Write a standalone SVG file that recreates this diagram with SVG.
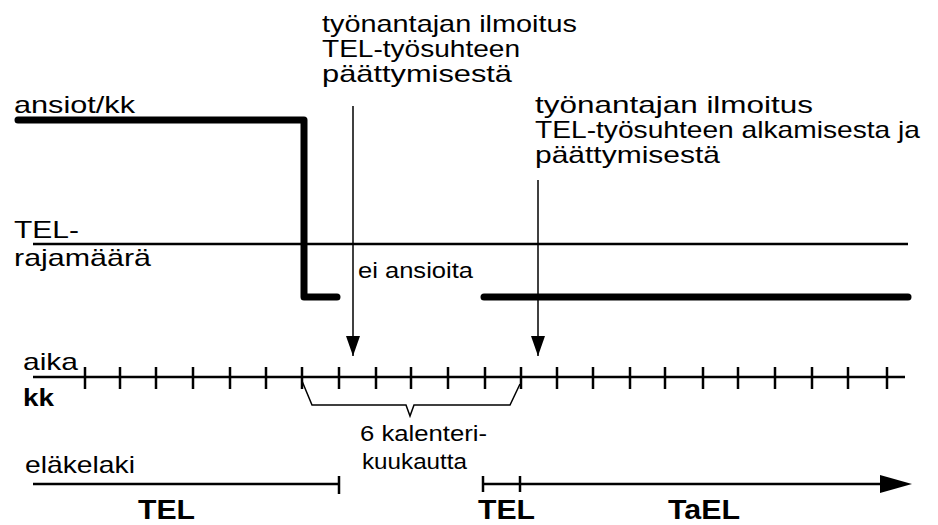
<svg xmlns="http://www.w3.org/2000/svg" width="938" height="525" viewBox="0 0 938 525">
<defs>
<style>
text{font-family:"Liberation Sans",Arial,sans-serif;fill:#000}
.t{font-size:24px}
.s{font-size:22px}
.b{font-size:28px;font-weight:bold}
.thick{stroke:#000;stroke-width:7;fill:none;stroke-linecap:round;stroke-linejoin:round}
.thin{stroke:#000;stroke-width:2.5;fill:none}
.arr{stroke:#000;stroke-width:1.5;fill:none}
.tick{stroke:#000;stroke-width:2.5}
</style>
<marker id="ah" viewBox="0 0 20 14" refX="20" refY="7" markerWidth="20" markerHeight="14" markerUnits="userSpaceOnUse" orient="auto">
<path d="M0,0 L20,7 L0,14 Z" fill="#000"/>
</marker>
</defs>
<rect width="938" height="525" fill="#fff"/>

<g id="labels">
<text class="t" x="14" y="113" textLength="121" lengthAdjust="spacingAndGlyphs">ansiot/kk</text>
<text class="t" x="14" y="238" textLength="65" lengthAdjust="spacingAndGlyphs">TEL-</text>
<text class="t" x="14" y="266" textLength="137" lengthAdjust="spacingAndGlyphs">rajamäärä</text>
<text class="t" x="23" y="370" textLength="55" lengthAdjust="spacingAndGlyphs">aika</text>
<text class="t" x="23" y="406" font-weight="bold" textLength="31" lengthAdjust="spacingAndGlyphs">kk</text>
<text class="t" x="25" y="473" textLength="110" lengthAdjust="spacingAndGlyphs">eläkelaki</text>
</g>

<g id="note-end">
<text class="t" x="322" y="32" textLength="255" lengthAdjust="spacingAndGlyphs">työnantajan ilmoitus</text>
<text class="t" x="322" y="57" textLength="198" lengthAdjust="spacingAndGlyphs">TEL-työsuhteen</text>
<text class="t" x="322" y="82" textLength="190" lengthAdjust="spacingAndGlyphs">päättymisestä</text>
</g>

<g id="note-startend">
<text class="t" x="535" y="113" textLength="278" lengthAdjust="spacingAndGlyphs">työnantajan ilmoitus</text>
<text class="t" x="535" y="138" textLength="385" lengthAdjust="spacingAndGlyphs">TEL-työsuhteen alkamisesta ja</text>
<text class="t" x="535" y="163" textLength="185" lengthAdjust="spacingAndGlyphs">päättymisestä</text>
</g>

<g id="no-earnings">
<text class="s" x="358" y="278" textLength="115" lengthAdjust="spacingAndGlyphs">ei ansioita</text>
</g>

<g id="months-label">
<text class="s" x="360" y="441" textLength="127" lengthAdjust="spacingAndGlyphs">6 kalenteri-</text>
<text class="s" x="362" y="469" textLength="105" lengthAdjust="spacingAndGlyphs">kuukautta</text>
</g>

<g id="law-labels">
<text class="b" x="138" y="519" textLength="57" lengthAdjust="spacingAndGlyphs">TEL</text>
<text class="b" x="478" y="519" textLength="57" lengthAdjust="spacingAndGlyphs">TEL</text>
<text class="b" x="668" y="519" textLength="72" lengthAdjust="spacingAndGlyphs">TaEL</text>
</g>

<g id="earnings">
<path class="thick" d="M18,120 H304 V297 H337"/>
<path class="thick" d="M484,297 H908"/>
</g>

<g id="threshold">
<line class="thin" x1="33" y1="244" x2="908" y2="244"/>
</g>

<g id="timeline">
<line class="thin" x1="33" y1="377" x2="905" y2="377"/>
<g class="tick">
<line x1="85" y1="367" x2="85" y2="389"/>
<line x1="120" y1="367" x2="120" y2="389"/>
<line x1="156" y1="367" x2="156" y2="389"/>
<line x1="193" y1="367" x2="193" y2="389"/>
<line x1="230" y1="367" x2="230" y2="389"/>
<line x1="266" y1="367" x2="266" y2="389"/>
<line x1="302" y1="367" x2="302" y2="389"/>
<line x1="339" y1="367" x2="339" y2="389"/>
<line x1="376" y1="367" x2="376" y2="389"/>
<line x1="411" y1="367" x2="411" y2="389"/>
<line x1="448" y1="367" x2="448" y2="389"/>
<line x1="485" y1="367" x2="485" y2="389"/>
<line x1="521" y1="367" x2="521" y2="389"/>
<line x1="557" y1="367" x2="557" y2="389"/>
<line x1="593" y1="367" x2="593" y2="389"/>
<line x1="630" y1="367" x2="630" y2="389"/>
<line x1="665" y1="367" x2="665" y2="389"/>
<line x1="703" y1="367" x2="703" y2="389"/>
<line x1="738" y1="367" x2="738" y2="389"/>
<line x1="775" y1="367" x2="775" y2="389"/>
<line x1="812" y1="367" x2="812" y2="389"/>
<line x1="848" y1="367" x2="848" y2="389"/>
<line x1="887" y1="367" x2="887" y2="389"/>
</g>
</g>

<g id="brace">
<path d="M302,381 L312,405 H406 L410,416 L414,405 H510 L520,384" fill="none" stroke="#000" stroke-width="1.5"/>
</g>

<g id="pension-law">
<line class="thin" x1="33" y1="484" x2="339" y2="484"/>
<line class="thin" x1="339" y1="476" x2="339" y2="494"/>
<line class="thin" x1="483" y1="484" x2="882" y2="484"/>
<line class="thin" x1="483" y1="476" x2="483" y2="492"/>
<line class="thin" x1="520" y1="476" x2="520" y2="492"/>
<path d="M880,475 L912,484 L880,493 Z" fill="#000"/>
</g>

<g id="connectors">
<line class="arr" x1="353" y1="106" x2="353" y2="356" marker-end="url(#ah)"/>
<line class="arr" x1="538" y1="180" x2="538" y2="356" marker-end="url(#ah)"/>
</g>
</svg>
